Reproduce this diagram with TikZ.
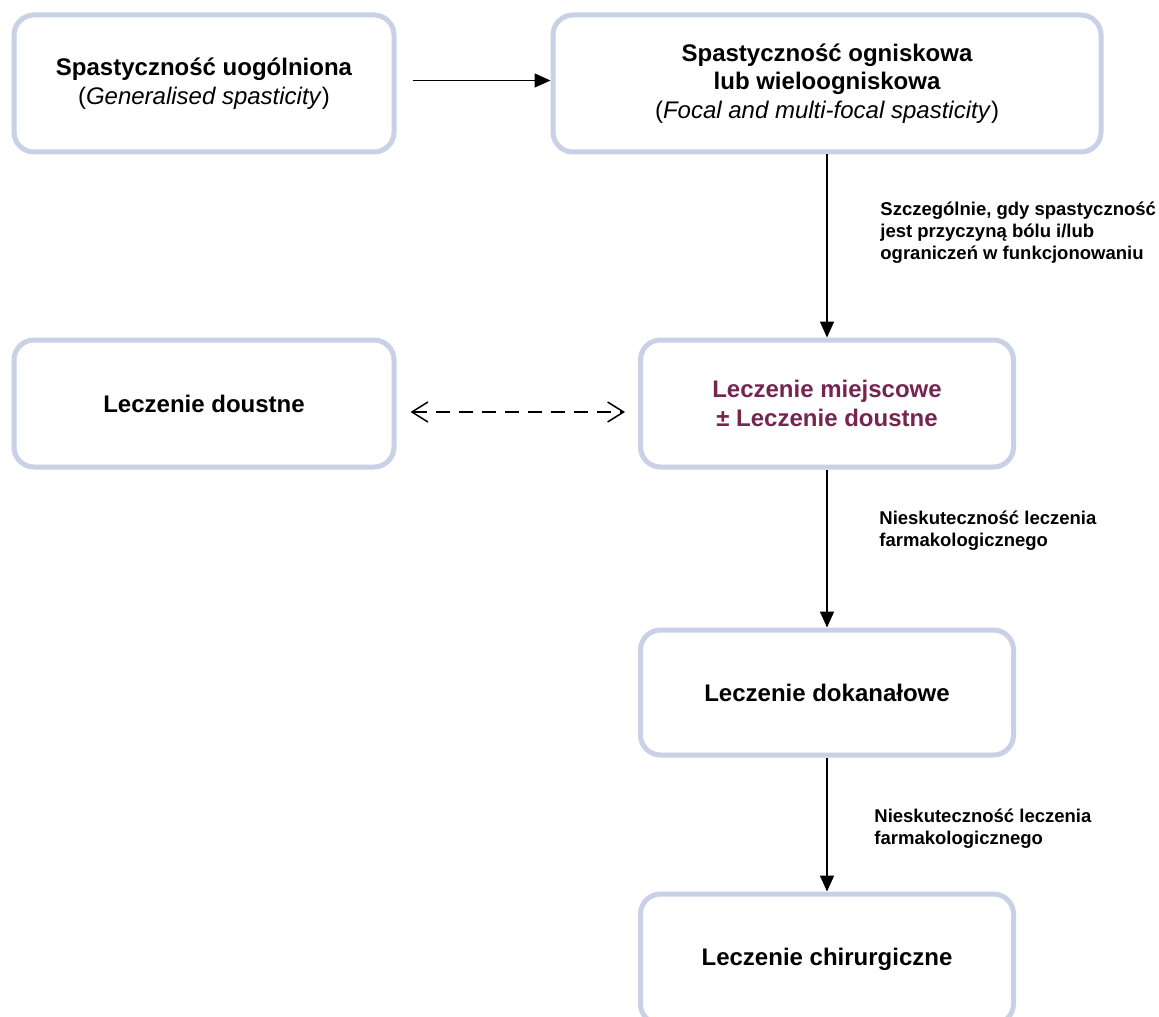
\documentclass[tikz,border=0pt]{standalone}
\usepackage{fontspec}
\setmainfont{Liberation Sans}
\usetikzlibrary{arrows.meta}
\definecolor{boxborder}{RGB}{201,209,230}
\definecolor{maroontext}{RGB}{118,36,80}
\begin{document}
\begin{tikzpicture}[x=0.5pt,y=-0.5pt,
  box/.style={draw=boxborder, line width=2.5pt, rounded corners=10pt, fill=white,
    align=center, font=\bfseries\fontsize{12}{14.2}\selectfont, inner sep=0pt},
  conn/.style={-{Triangle[length=8pt,width=7pt]}, line width=0.8pt},
  biconn/.style={{Straight Barb[length=8pt,width=10pt]}-{Straight Barb[length=8pt,width=10pt]},
    line width=0.75pt, dash pattern=on 7pt off 4.5pt},
  lbl/.style={anchor=west, align=left, font=\bfseries\fontsize{9.25}{11}\selectfont, inner sep=0pt}]
\clip (0,0) rectangle (1159,1016);
\fill[white] (0,0) rectangle (1159,1016);

\node[box, minimum width=190pt, minimum height=68.5pt] (b1) at (204,83.5)
  {Spastyczność uogólniona\\\mdseries(\textit{Generalised spasticity})};
\node[box, minimum width=274pt, minimum height=68.5pt] (b2) at (827,83.5)
  {Spastyczność ogniskowa\\lub wieloogniskowa\\\mdseries(\textit{Focal and multi-focal spasticity})};
\node[box, minimum width=190pt, minimum height=63.5pt] (b3) at (204,403.5)
  {Leczenie doustne};
\node[box, minimum width=186.5pt, minimum height=63.5pt, text=maroontext] (b4) at (827,403.5)
  {Leczenie miejscowe\\± Leczenie doustne};
\node[box, minimum width=186.5pt, minimum height=62.5pt] (b5) at (827,692.5)
  {Leczenie dokanałowe};
\node[box, minimum width=186.5pt, minimum height=65pt] (b6) at (827,959)
  {Leczenie chirurgiczne};

\draw[conn, shorten <=8pt] ([yshift=1.5pt]b1.east) -- ([yshift=1.5pt]b2.west);
\draw[conn] (b2) -- (b4);
\draw[conn] (b4) -- (b5);
\draw[conn] (b5) -- (b6);
\draw[biconn, shorten <=7pt, shorten >=6.5pt] ([yshift=-4.25pt]b3.east) -- ([yshift=-4.25pt]b4.west);

\node[lbl] (l1) at (880,233) {Szczególnie, gdy spastyczność\\jest przyczyną bólu i/lub\\ograniczeń w funkcjonowaniu};
\node[lbl] (l2) at (879,531) {Nieskuteczność leczenia\\farmakologicznego};
\node[lbl] (l3) at (874,829) {Nieskuteczność leczenia\\farmakologicznego};
\end{tikzpicture}
\end{document}
